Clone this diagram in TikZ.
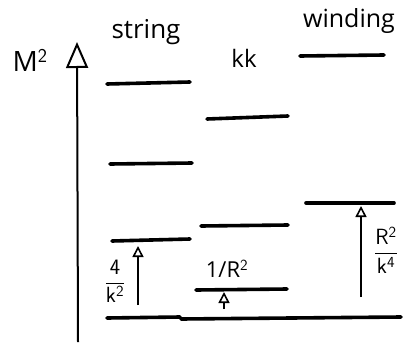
\documentclass[tikz,border=0pt]{standalone}
\usepackage{fontspec}
\setmainfont{Open Sans}
\usetikzlibrary{arrows.meta}
\begin{document}
\begin{tikzpicture}[x=1pt,y=-1pt,
  level/.style={line width=3.6pt,line cap=round},
  gap/.style={line width=1.8pt,-{Triangle[open,length=11pt,width=11pt,line width=1.6pt]}},
  lbl/.style={font=\fontsize{22}{24}\selectfont,inner sep=0pt}]
\useasboundingbox (0,0) rectangle (403,342);
% axis
\coordinate (ax0) at (78,342);
\coordinate (ax1) at (77,42);
\draw[line width=2pt,-{Triangle[open,length=26pt,width=22pt,line width=2pt]}] (ax0) -- (ax1);
\node[lbl,font=\fontsize{28}{30}\selectfont] (M) at (30,60) {M$^{\mathsf{2}}$};
% column labels
\node[lbl,font=\fontsize{26}{28}\selectfont] (tstring) at (146,32) {string};
\node[lbl,font=\fontsize{24}{26}\selectfont] (tkk) at (244,58) {kk};
\node[lbl,font=\fontsize{25}{27}\selectfont] (twind) at (349,21) {winding};
% string levels
\coordinate (s1a) at (107,84); \coordinate (s1b) at (190,82);
\coordinate (s2a) at (110,164); \coordinate (s2b) at (192,163);
\coordinate (s3a) at (112,241); \coordinate (s3b) at (190,239);
\coordinate (s0a) at (107,318); \coordinate (s0b) at (180,317);
\draw[level] (s1a) -- (s1b);
\draw[level] (s2a) -- (s2b);
\draw[level] (s3a) -- (s3b);
\draw[level] (s0a) -- (s0b);
% kk levels
\coordinate (k1a) at (207,119); \coordinate (k1b) at (288,116);
\coordinate (k2a) at (201,226); \coordinate (k2b) at (288,225);
\coordinate (k3a) at (196,290); \coordinate (k3b) at (287,289);
\coordinate (k0a) at (181,319); \coordinate (k0b) at (401,317);
\draw[level] (k1a) -- (k1b);
\draw[level] (k2a) -- (k2b);
\draw[level] (k3a) -- (k3b);
\draw[level] (k0a) -- (k0b);
% winding levels
\coordinate (w1a) at (300,56); \coordinate (w1b) at (384,55);
\coordinate (w2a) at (306,203); \coordinate (w2b) at (394,203);
\draw[level] (w1a) -- (w1b);
\draw[level] (w2a) -- (w2b);
% gap arrows
\coordinate (g1a) at (138,305); \coordinate (g1b) at (138,246);
\draw[gap] (g1a) -- (g1b);
\node[lbl] (l1) at (115,281) {$\displaystyle\frac{\mathsf{4}}{\mathsf{k}^{\mathsf{2}}}$};
\coordinate (g2a) at (224,309); \coordinate (g2b) at (224,292);
\draw[gap] (g2a) -- (g2b);
\node[lbl] (l2) at (227,269) {1/R$^{\mathsf{2}}$};
\coordinate (g3a) at (361,297); \coordinate (g3b) at (361,206);
\draw[gap] (g3a) -- (g3b);
\node[lbl] (l3) at (386,250) {$\displaystyle\frac{\mathsf{R}^{\mathsf{2}}}{\mathsf{k}^{\mathsf{4}}}$};
\end{tikzpicture}
\end{document}
